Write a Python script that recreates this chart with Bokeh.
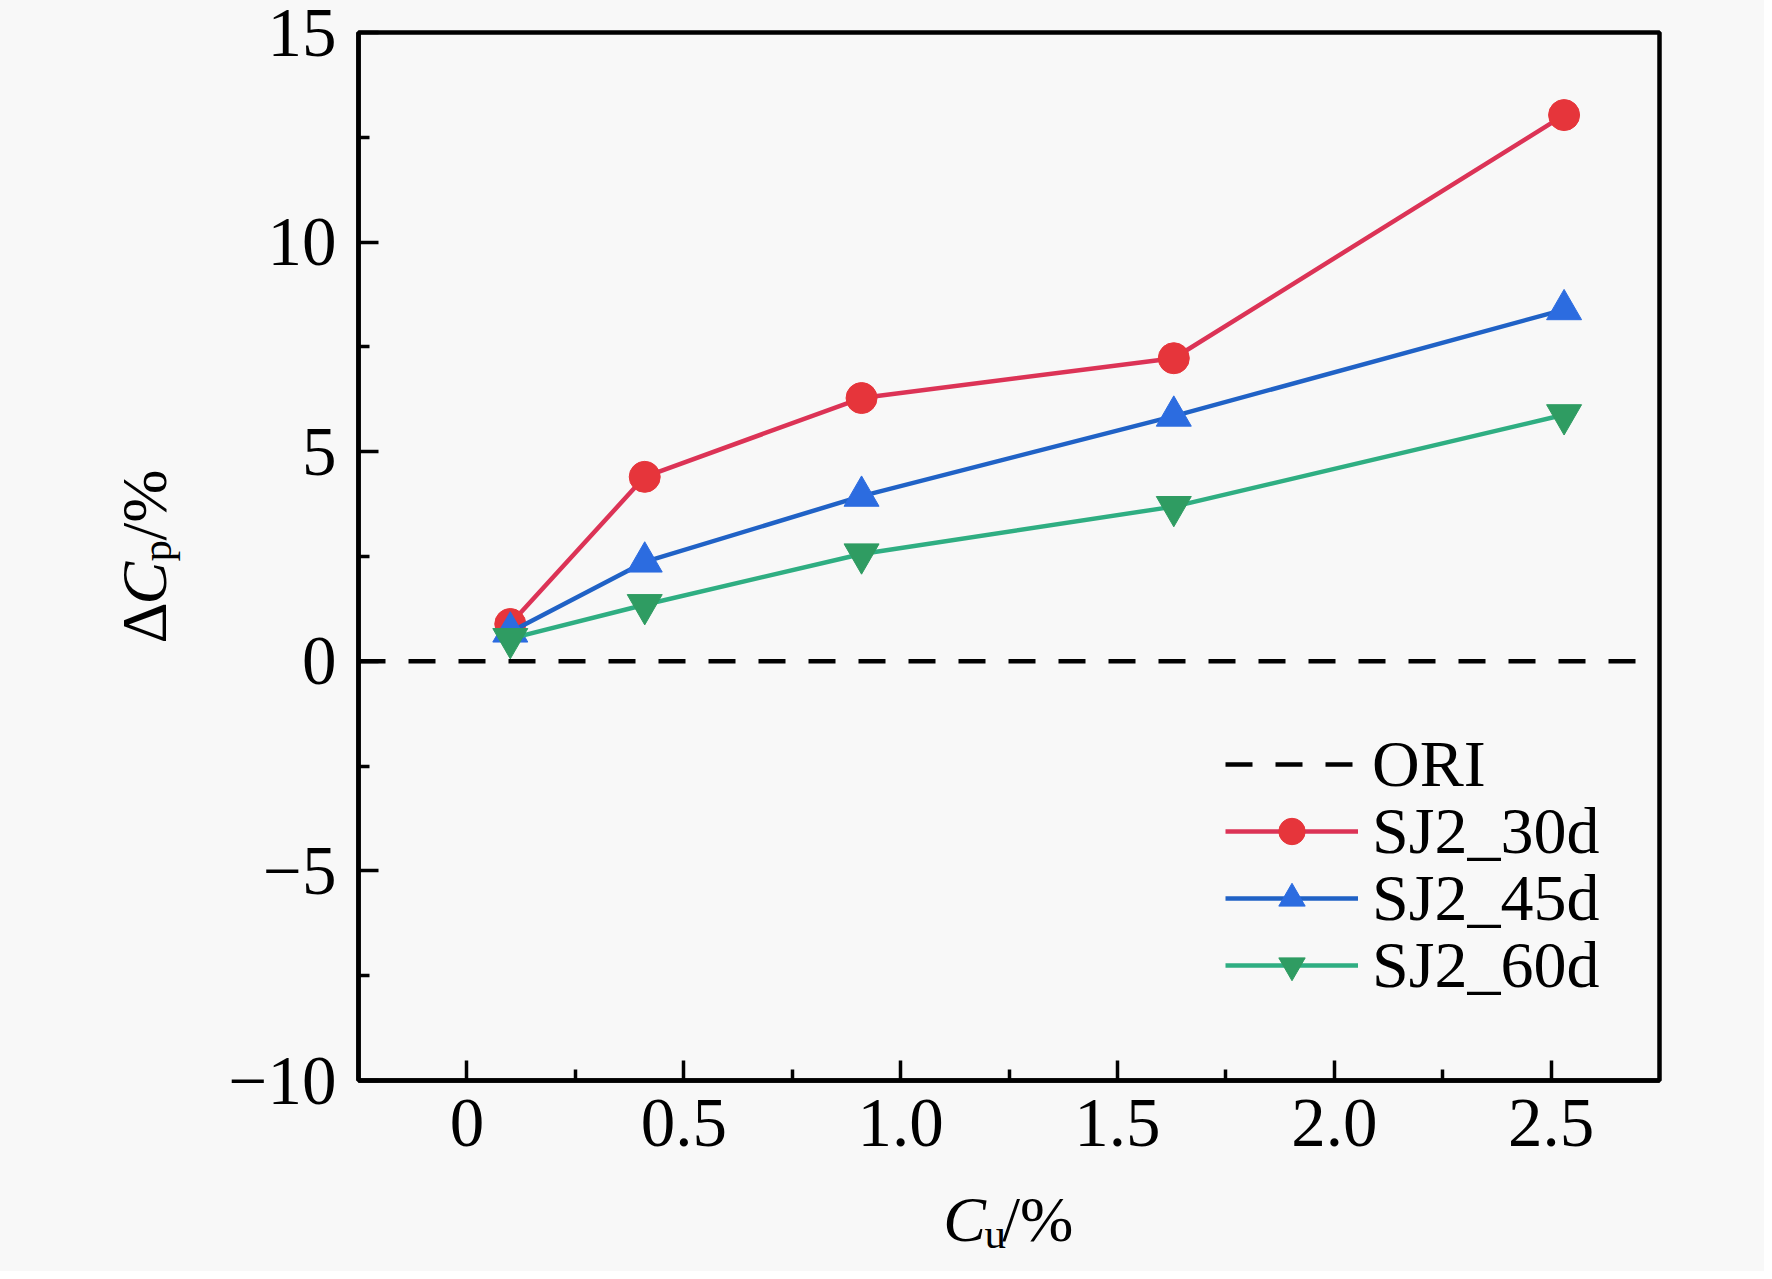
import math
from bokeh.plotting import figure
from bokeh.layouts import row, column
from bokeh.models import FixedTicker, CustomJSTickFormatter, Range1d, Legend, LegendItem
from bokeh.core.properties import value
from bokeh.embed import file_html
from bokeh.resources import INLINE

# ---- data ----
cu = [0.10, 0.41, 0.91, 1.63, 2.53]
sj2_30d = [0.89, 4.40, 6.28, 7.23, 13.03]
sj2_45d = [0.70, 2.37, 3.94, 5.85, 8.39]
sj2_60d = [0.54, 1.35, 2.56, 3.69, 5.88]
ori_x = [-0.25, 2.75]
ori_y = [0.0, 0.0]

x_ticks = [0, 0.5, 1.0, 1.5, 2.0, 2.5]
x_minor = [0.25, 0.75, 1.25, 1.75, 2.25]
y_ticks = [-10, -5, 0, 5, 10, 15]
y_minor = [-7.5, -2.5, 2.5, 7.5, 12.5]

x_title = ["C", "u", "/%"]          # C_u/%
y_title = ["\u0394", "C", "p", "/%"]  # ΔC_p/%

FONT = "Liberation Serif"
BG = "#f8f8f8"

X0, X1 = -0.25, 2.75
Y0, Y1 = -10, 15
W, H = 1764, 1271
YW = 220          # width of the strip holding the y title
XH = 96           # height of the strip holding the x title
MW, MH = W - YW, H - XH
BL, BT = 358 - YW, 32
FW, FH = 1301, 1048

p = figure(width=MW, height=MH, output_backend="svg", toolbar_location=None,
           x_range=Range1d(X0, X1), y_range=Range1d(Y0, Y1),
           min_border_left=BL, min_border_right=MW - BL - FW, min_border_top=BT,
           min_border_bottom=MH - BT - FH, background_fill_color=BG, border_fill_color=BG)
p.grid.visible = False
p.outline_line_color = "black"
p.outline_line_width = 4.5
p.outline_line_alpha = 1

for ax in (p.xaxis[0], p.yaxis[0]):
    ax.axis_line_width = 4.5
    ax.axis_line_color = "black"
    ax.major_tick_in = 20
    ax.major_tick_out = 0
    ax.minor_tick_in = 11
    ax.minor_tick_out = 0
    ax.major_tick_line_width = 3.5
    ax.minor_tick_line_width = 3.5
    ax.major_label_text_font = FONT
    ax.major_label_text_font_size = "69px"
    ax.major_label_text_color = "black"
p.xaxis[0].major_label_standoff = 19
p.yaxis[0].major_label_standoff = 22

p.xaxis[0].ticker = FixedTicker(ticks=x_ticks, minor_ticks=x_minor)
p.yaxis[0].ticker = FixedTicker(ticks=y_ticks, minor_ticks=y_minor)
p.xaxis[0].formatter = CustomJSTickFormatter(code="return tick == 0 ? '0' : tick.toFixed(1);")
p.yaxis[0].formatter = CustomJSTickFormatter(code="return tick < 0 ? '\u2212' + Math.abs(tick) : String(tick);")

renderers = []
r_ori = p.line(ori_x, ori_y, line_color="black", line_width=4.5, line_dash="27 23")
renderers.append(("ORI", [r_ori]))

series = [
    (sj2_30d, "SJ2_30d", "#dc3356", "#e6353b", "circle", 31),
    (sj2_45d, "SJ2_45d", "#2062c6", "#2c6ce0", "triangle", 35),
    (sj2_60d, "SJ2_60d", "#2fae82", "#2f9c62", "inverted_triangle", 35),
]
for ys, name, lc, mc, mk, sz in series:
    rl = p.line(cu, ys, line_color=lc, line_width=4.5)
    rs = p.scatter(cu, ys, marker=mk, size=sz, fill_color=mc, line_color=mc, line_width=1)
    renderers.append((name, [rl, rs]))

# one legend per row so that rows can sit closer than the text box height
row_h = 67
for i, (name, rs) in enumerate(renderers):
    lg = Legend(items=[LegendItem(label=name, renderers=rs)],
                location=(867, 113 - 36 + (3 - i) * row_h))
    lg.label_text_font = FONT
    lg.label_text_font_size = "66px"
    lg.label_text_color = "black"
    lg.glyph_width = 133
    lg.glyph_height = 66
    lg.label_height = 66
    lg.label_standoff = 14
    lg.spacing = 0
    lg.padding = 0
    lg.margin = 0
    lg.background_fill_alpha = 0
    lg.border_line_alpha = 0
    p.add_layout(lg, "center")


def strip(w, h):
    f = figure(width=w, height=h, output_backend="svg", toolbar_location=None,
               x_range=Range1d(0, w), y_range=Range1d(0, h),
               x_axis_location=None, y_axis_location=None,
               min_border=0, background_fill_color=BG, border_fill_color=BG)
    f.grid.visible = False
    f.outline_line_color = None
    return f


def put(f, x, y, txt, size, style="normal", angle=0.0):
    f.text(x=[x], y=[y], text=[txt], angle=angle, text_font=value(FONT),
           text_font_size=value(f"{size}px"), text_font_style=value(style),
           text_color="black", text_baseline="alphabetic", text_align="left")


# empirical offset of the text anchor seen in the rendered page
DX, DY = 26, 26

# x title strip (C_u/%)
xf = strip(MW, XH)
put(xf, 940 - YW - DX, H - 1245 + DY, x_title[0], 64, "italic")
put(xf, 989 - YW - DX, H - 1259 + DY, x_title[1], 43)
put(xf, 1010 - YW - DX, H - 1245 + DY, x_title[2], 64)

# y title strip (ΔC_p/%), rotated to read upwards
yf = strip(YW, H)
a = math.pi / 2
put(yf, 170 - DX, H - 643, y_title[0], 64, angle=a)
put(yf, 170 - DX, H - 604, y_title[1], 64, "italic", angle=a)
put(yf, 182 - DX, H - 561, y_title[2], 43, angle=a)
put(yf, 170 - DX, H - 540, y_title[3], 64, angle=a)

col = column(p, xf, spacing=0, styles={"background-color": BG})
layout = row(yf, col, spacing=0, styles={"background-color": BG})
open("out.html", "w").write(file_html(layout, INLINE))
